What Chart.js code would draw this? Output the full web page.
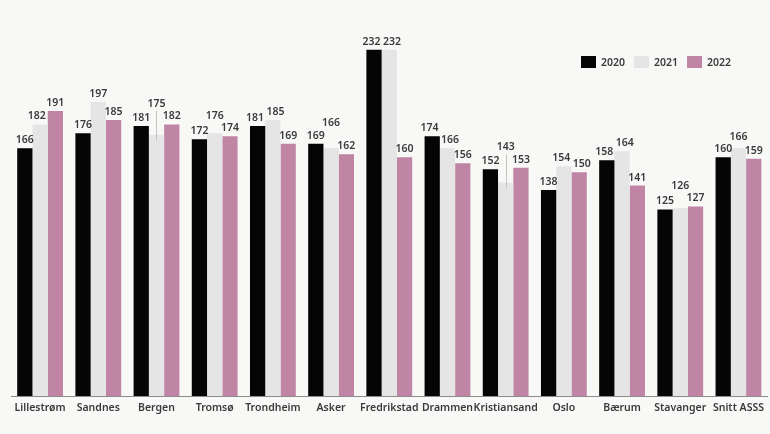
<!DOCTYPE html>
<html>
<head>
<meta charset="utf-8">
<script src="https://cdn.jsdelivr.net/npm/chart.js@4"></script>
<style>
   html, body { margin: 0; padding: 0; background: #f8f8f7; }
   canvas { display: block; }
</style>
</head>
<body>
<canvas id="chart" width="770" height="434"></canvas>
<script>
const categories = ["Lillestrøm", "Sandnes", "Bergen", "Tromsø", "Trondheim", "Asker", "Fredrikstad", "Drammen", "Kristiansand", "Oslo", "Bærum", "Stavanger", "Snitt ASSS"];
const years = ["2020", "2021", "2022"];
const values2020 = [166, 176, 181, 172, 181, 169, 232, 174, 152, 138, 158, 125, 160];
const values2021 = [182, 197, 175, 176, 185, 166, 232, 166, 143, 154, 164, 126, 166];
const values2022 = [191, 185, 182, 174, 169, 162, 160, 156, 153, 150, 141, 127, 159];
const colors = ["#050505", "#e5e5e5", "#c084a4"];

const FONT_FAMILY = "'Noto Sans', sans-serif";
const FONT = "600 10.5px " + FONT_FAMILY;
const TEXT_COLOR = "#3a3a3a";

// value labels above bars, with a bit of collision handling
const valueLabelPlugin = {
   id: "valueLabels",
   afterDatasetsDraw(chart) {
      const ctx = chart.ctx;
      ctx.save();
      ctx.font = FONT;
      ctx.textAlign = "center";
      ctx.textBaseline = "middle";

      categories.forEach((cat, j) => {
         const pts = chart.data.datasets.map((ds, i) => {
            const el = chart.getDatasetMeta(i).data[j];
            const text = String(ds.data[j]);
            return { text, x: el.x, y: el.y - 8, ax: el.x, ay: el.y, bw: el.width, w: ctx.measureText(text).width };
         });
         const overlap = (a, b) => Math.abs(a.y - b.y) < 12 && Math.abs(a.x - b.x) < (a.w + b.w) / 2 + 1;
         // label box runs into the neighbouring bar
         const hitsBar = (lab, bar) => lab.y + 5.5 > bar.ay && Math.abs(lab.x - bar.ax) < lab.w / 2 + bar.bw / 2;

         const m = pts[1];
         const leftHit = overlap(m, pts[0]) || hitsBar(m, pts[0]);
         const rightHit = overlap(m, pts[2]) || hitsBar(m, pts[2]);
         let lifted = false;
         if (leftHit && rightHit) {
            m.y = Math.min(m.y, Math.min(pts[0].y, pts[2].y) - 12.5);
            lifted = true;
         } else {
            if (hitsBar(m, pts[0]) && !overlap(m, pts[0])) m.x += (m.w - m.bw) / 2 + 2;
            if (hitsBar(m, pts[2]) && !overlap(m, pts[2])) m.x -= (m.w - m.bw) / 2 + 2;
            [[0, 1], [1, 2]].forEach(([a, b]) => {
               const A = pts[a], B = pts[b];
               if (overlap(A, B)) {
                  const need = (A.w + B.w) / 2 + 2.5 - (B.x - A.x);
                  if (need > 0) {
                     A.x -= need / 2;
                     B.x += need / 2;
                  }
               }
            });
         }

         if (lifted && (m.ay - 8 - m.y) > 18) {
            ctx.strokeStyle = "#c4c4c4";
            ctx.lineWidth = 1;
            ctx.beginPath();
            ctx.moveTo(Math.round(m.ax) + 0.5, m.y + 7);
            ctx.lineTo(Math.round(m.ax) + 0.5, m.ay + 6);
            ctx.stroke();
         }

         ctx.fillStyle = TEXT_COLOR;
         pts.forEach(p => ctx.fillText(p.text, p.x, p.y));
      });
      ctx.restore();
   }
};

// legend drawn top right
const legendPlugin = {
   id: "customLegend",
   afterDraw(chart) {
      const ctx = chart.ctx;
      ctx.save();
      ctx.font = FONT;
      ctx.textBaseline = "middle";
      ctx.textAlign = "left";
      let x = 581;
      const y = 62;
      chart.data.datasets.forEach(ds => {
         ctx.fillStyle = ds.backgroundColor;
         ctx.fillRect(x, y - 6, 15, 12);
         ctx.fillStyle = TEXT_COLOR;
         ctx.fillText(ds.label, x + 20, y + 1);
         x += 20 + ctx.measureText(ds.label).width + 9;
      });
      ctx.restore();
   }
};

const seriesValues = [values2020, values2021, values2022];

new Chart(document.getElementById("chart").getContext("2d"), {
   type: "bar",
   data: {
      labels: categories,
      datasets: years.map((y, i) => ({
         label: y,
         data: seriesValues[i],
         backgroundColor: colors[i],
         barPercentage: 1,
         categoryPercentage: 0.787
      }))
   },
   options: {
      responsive: false,
      animation: false,
      layout: {
         padding: { left: 11, right: 0, top: 8, bottom: 0 }
      },
      plugins: {
         legend: { display: false },
         tooltip: { enabled: false }
      },
      scales: {
         x: {
            grid: { display: false, drawTicks: false },
            border: { display: true, color: "#8c8c8c", width: 1 },
            ticks: {
               color: TEXT_COLOR,
               padding: 6,
               maxRotation: 0,
               autoSkip: false,
               font: { family: FONT_FAMILY, size: 10.5, weight: "600" }
            },
            afterFit(scale) { scale.height = 38; }
         },
         y: {
            display: false,
            min: 0,
            max: 260
         }
      }
   },
   plugins: [valueLabelPlugin, legendPlugin]
});
</script>
</body>
</html>
